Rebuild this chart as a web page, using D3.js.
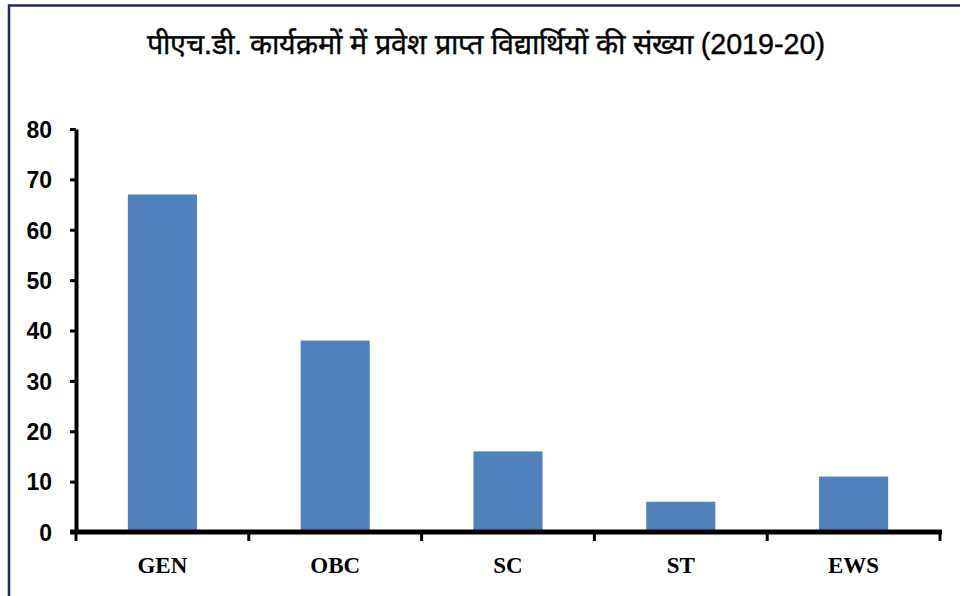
<!DOCTYPE html>
<html>
<head>
<meta charset="utf-8">
<script src="https://cdn.jsdelivr.net/npm/d3@7"></script>
<style>
  body { margin: 0; background: #fff; }
  svg { display: block; }
  .axis path, .axis line { stroke: #000; }
  .y.axis text { font-family: "Liberation Sans", Arial, sans-serif; font-weight: bold; font-size: 23px; fill: #000; }
  .x.axis text { font-family: "Liberation Serif", "Times New Roman", serif; font-weight: bold; font-size: 23px; fill: #000; }
</style>
</head>
<body>
<svg id="chart" width="960" height="596"></svg>
<script>
const categories = ["GEN", "OBC", "SC", "ST", "EWS"];
const students = [67, 38, 16, 6, 11];
const yTicks = [0, 10, 20, 30, 40, 50, 60, 70, 80];
const title = "पीएच.डी. कार्यक्रमों में प्रवेश प्राप्त विद्यार्थियों की संख्या (2019-20)";

const svg = d3.select("#chart");

// outer frame (only top/left visible in the picture)
svg.append("rect")
    .attr("x", 9)
    .attr("y", 5.5)
    .attr("width", 960)
    .attr("height", 600)
    .attr("fill", "none")
    .attr("stroke", "#1f2a6e")
    .attr("stroke-width", 2.5);

svg.append("text")
    .attr("x", 486)
    .attr("y", 54)
    .attr("text-anchor", "middle")
    .style("font-family", "\"Liberation Sans\", Arial, sans-serif")
    .style("font-size", "28.7px")
    .style("fill", "#000")
    .style("stroke", "#000")
    .style("stroke-width", 0.4)
    .text(title);

const plotLeft = 76, plotRight = 940, plotTop = 129, plotBottom = 532;

const xScale = d3.scaleBand()
    .domain(categories)
    .range([plotLeft, plotRight])
    .paddingInner(0.6)
    .paddingOuter(0.3);

const yScale = d3.scaleLinear()
    .domain([0, 80])
    .range([plotBottom, plotTop]);

// bars
svg.append("g")
    .selectAll("rect")
    .data(categories)
    .join("rect")
    .attr("x", d => xScale(d))
    .attr("y", (d, i) => yScale(students[i]))
    .attr("width", xScale.bandwidth())
    .attr("height", (d, i) => plotBottom - yScale(students[i]))
    .attr("fill", "#4f81bd");

// y axis
const yAxis = svg.append("g")
    .attr("class", "y axis")
    .attr("transform", "translate(" + plotLeft + ",0)")
    .call(d3.axisLeft(yScale).tickValues(yTicks).tickSize(6).tickSizeOuter(0).tickPadding(18));
yAxis.select(".domain").attr("stroke-width", 4);
yAxis.selectAll(".tick line").attr("stroke-width", 3);
yAxis.selectAll(".tick text").attr("dy", "0.36em");

// x axis: ticks at category boundaries
const step = xScale.step();
const boundaries = d3.range(categories.length + 1).map(i => plotLeft + i * step);
const xAxis = svg.append("g")
    .attr("class", "x axis")
    .attr("transform", "translate(0," + plotBottom + ")");
xAxis.append("line")
    .attr("x1", plotLeft - 6)
    .attr("x2", plotRight + 2)
    .attr("stroke", "#000")
    .attr("stroke-width", 5);
xAxis.selectAll(".btick")
    .data(boundaries)
    .join("line")
    .attr("class", "btick")
    .attr("x1", d => d)
    .attr("x2", d => d)
    .attr("y1", 0)
    .attr("y2", 9)
    .attr("stroke", "#000")
    .attr("stroke-width", 3);
xAxis.selectAll("text")
    .data(categories)
    .join("text")
    .attr("x", d => xScale(d) + xScale.bandwidth() / 2)
    .attr("y", 41)
    .attr("text-anchor", "middle")
    .text(d => d);
</script>
</body>
</html>
